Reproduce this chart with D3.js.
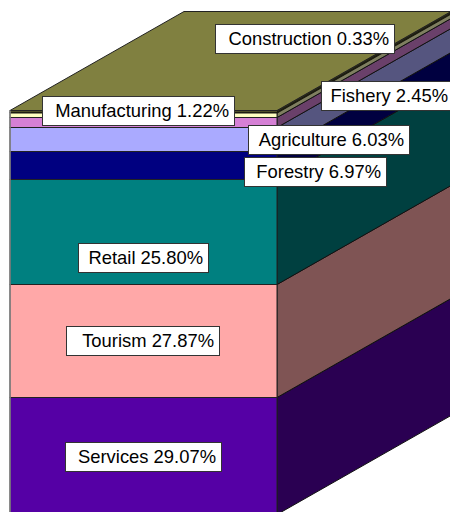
<!DOCTYPE html>
<html>
<head>
<meta charset="utf-8">
<script src="https://d3js.org/d3.v7.min.js"></script>
<style>
html, body { margin: 0; padding: 0; background: #fff; overflow: hidden; }
svg { display: block; }
text { font-family: "Liberation Sans", Arial, sans-serif; font-size: 18.4px; fill: #000; }
</style>
</head>
<body>
<div id="chart"></div>
<script>
// values, bottom of the stack first
const categories = ["Services", "Tourism", "Retail", "Forestry", "Agriculture", "Fishery", "Manufacturing", "Construction"];
const shares = [29.07, 27.87, 25.80, 6.97, 6.03, 2.45, 1.22, 0.33];
const shareLabels = ["29.07%", "27.87%", "25.80%", "6.97%", "6.03%", "2.45%", "1.22%", "0.33%"];

const frontColors = ["#5500a5", "#ffa8a8", "#008080", "#000080", "#aaaaff", "#d580d5", "#ffffc0", "#808040"];

// label boxes were dragged around by hand in the original: left, top, right
const labelBoxes = [
    [65, 442, 222], [66, 326, 220], [78, 243, 209], [244, 157, 387],
    [248, 125, 410], [321, 81, 454], [42, 96, 235], [215, 24, 395]
];

const width = 450, height = 512;
const left = 10, right = 277;
const depth = { x: 174, y: -99 };

const svg = d3.select("#chart").append("svg")
    .attr("width", width)
    .attr("height", height);

const y = d3.scaleLinear()
    .domain([0, 100])
    .range([514.7, 110]);

// snap band edges so the 1px outlines stay crisp
const snap = v => Math.floor(v) + 0.5;

const tops = Array.from(d3.cumsum(shares));
const bands = categories.map((name, i) => ({
    name,
    i,
    y0: snap(y(i ? tops[i - 1] : 0)),
    y1: snap(y(i == categories.length - 1 ? 100 : tops[i])),
    color: frontColors[i]
}));

const line = d3.line();
const topY = bands[bands.length - 1].y1;

// side walls
svg.selectAll("path.side")
    .data(bands)
    .join("path")
    .attr("class", "side")
    .attr("d", d => line([
        [right, d.y0], [right, d.y1],
        [right + depth.x, d.y1 + depth.y], [right + depth.x, d.y0 + depth.y]
    ]) + "Z")
    .attr("fill", d => d3.rgb(d.color).darker(1.95))
    .attr("stroke", "#111")
    .attr("stroke-width", 1);

// top of the block
svg.append("path")
    .attr("d", line([
        [left, topY], [right, topY],
        [right + depth.x, topY + depth.y], [left + depth.x, topY + depth.y]
    ]) + "Z")
    .attr("fill", "#808040")
    .attr("stroke", "#222")
    .attr("stroke-width", 1);

// front
svg.selectAll("rect.front")
    .data(bands)
    .join("rect")
    .attr("class", "front")
    .attr("x", left)
    .attr("y", d => d.y1)
    .attr("width", right - left)
    .attr("height", d => d.y0 - d.y1)
    .attr("fill", d => d.color)
    .attr("stroke", "#222")
    .attr("stroke-width", 1);

// the construction slab is too thin to show any fill, only a heavy dark edge
const slab = bands[bands.length - 1];
svg.append("path")
    .attr("d", line([[left, slab.y0], [right, slab.y0], [right + depth.x, slab.y0 + depth.y]]))
    .attr("fill", "none")
    .attr("stroke", "#1c1c10")
    .attr("stroke-width", 2);

// left edge reads grey in the original
svg.append("line")
    .attr("x1", left).attr("x2", left)
    .attr("y1", topY).attr("y2", height)
    .attr("stroke", "#888")
    .attr("stroke-width", 1.5);

// labels
const labels = svg.selectAll("g.label")
    .data(bands)
    .join("g")
    .attr("class", "label");

labels.append("rect")
    .attr("x", d => labelBoxes[d.i][0] + 0.5)
    .attr("y", d => labelBoxes[d.i][1] + 0.5)
    .attr("width", d => labelBoxes[d.i][2] - labelBoxes[d.i][0] - 1)
    .attr("height", 29)
    .attr("fill", "#fff")
    .attr("stroke", "#333");

labels.append("text")
    .attr("x", d => labelBoxes[d.i][2] - 6)
    .attr("y", d => labelBoxes[d.i][1] + 21)
    .attr("text-anchor", "end")
    .text(d => `${d.name} ${shareLabels[d.i]}`);
</script>
</body>
</html>
